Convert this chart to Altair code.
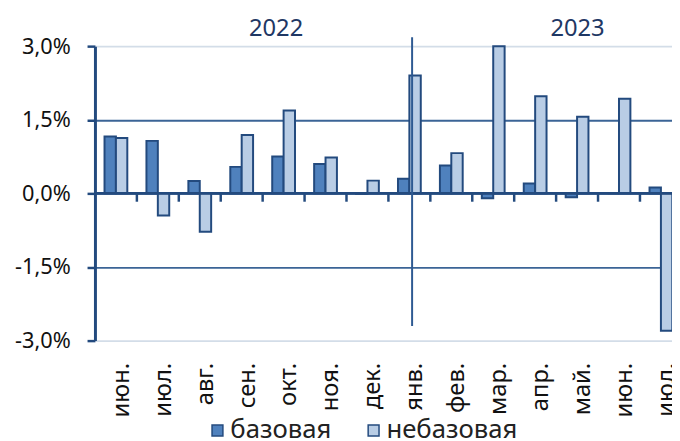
import altair as alt
import pandas as pd

# ---- data ----
months = ["июн.", "июл.", "авг.", "сен.", "окт.", "ноя.", "дек.",
          "янв.", "фев.", "мар.", "апр.", "май.", "июн.", "июл."]
years = [2022, 2022, 2022, 2022, 2022, 2022, 2022,
         2023, 2023, 2023, 2023, 2023, 2023, 2023]
base_vals = [1.16, 1.07, 0.25, 0.54, 0.75, 0.60, -0.01,
             0.30, 0.57, -0.10, 0.20, -0.08, 0.00, 0.12]
nonbase_vals = [1.13, -0.45, -0.78, 1.19, 1.69, 0.73, 0.26,
                2.40, 0.82, 3.00, 1.98, 1.56, 1.93, -2.80]
series_names = ["базовая", "небазовая"]
year_labels = ["2022", "2023"]
y_ticks = [-3.0, -1.5, 0.0, 1.5, 3.0]

cats = [f"{m} {y}" for m, y in zip(months, years)]

rows = []
for c, b, n in zip(cats, base_vals, nonbase_vals):
    rows.append({"cat": c, "series": series_names[0], "value": b})
    rows.append({"cat": c, "series": series_names[1], "value": n})
df = pd.DataFrame(rows)

NAVY = "#234A7E"
DARK = "#4F81BD"
LIGHT = "#B9CDE5"
FONT = "Noto Sans"

x_scale = alt.Scale(domain=cats, range=[0, 594], paddingInner=0, paddingOuter=0)
y_scale = alt.Scale(domain=[-3, 3], nice=False, zero=False)

x_axis = alt.Axis(
    title=None, labelAngle=270, ticks=False, domain=False, grid=False,
    labelPadding=22, labelOffset=6, labelFontSize=24, labelColor="#111111", labelFont=FONT,
    labelOverlap=False, labelExpr="split(datum.label, ' ')[0]",
)
y_axis = alt.Axis(
    title=None, values=y_ticks, grid=True,
    gridColor={"condition": {"test": "abs(datum.value) == 3", "value": "#D3DDE8"},
               "value": "#3B6496"},
    gridWidth=1.8, domainColor=NAVY, domainWidth=3, tickColor=NAVY, tickWidth=2.5,
    tickSize=8, labelPadding=17, labelFontSize=22, labelColor="#111111", labelFont=FONT,
    labelExpr="replace(replace(format(datum.value, '.1f'), '.', ','), '\u2212', '-') + '%'",
)

bars = alt.Chart(df).mark_bar(stroke=NAVY, strokeWidth=2).encode(
    x=alt.X("cat:N", scale=x_scale, sort=cats, axis=x_axis),
    xOffset=alt.XOffset("series:N", sort=series_names,
                        scale=alt.Scale(domain=series_names, paddingInner=0, paddingOuter=0.84)),
    y=alt.Y("value:Q", scale=y_scale, axis=y_axis),
    color=alt.Color("series:N", sort=series_names,
                    scale=alt.Scale(domain=series_names, range=[DARK, LIGHT]),
                    legend=alt.Legend(
                        title=None, orient="none", direction="horizontal",
                        legendX=111, legendY=376, padding=0,
                        symbolType="square", symbolSize=121, symbolStrokeColor=NAVY,
                        symbolStrokeWidth=1.5, labelFontSize=26, labelFont=FONT,
                        labelColor="#222222", labelOffset=0, columnPadding=29,
                    )),
)

zero_line = alt.Chart(pd.DataFrame({"v": [0.0]})).mark_rule(color=NAVY, strokeWidth=3).encode(
    y=alt.Y("v:Q", scale=y_scale, axis=y_axis),
)

ticks = alt.Chart(pd.DataFrame({"cat": cats[1:]})).mark_rule(color=NAVY, strokeWidth=2.5).encode(
    x=alt.X("cat:N", scale=x_scale, sort=cats, axis=x_axis, bandPosition=0),
    y=alt.Y(datum=0, scale=y_scale, axis=y_axis),
    y2=alt.Y2(datum=-0.17),
)

divider = alt.Chart(pd.DataFrame({"cat": [cats[7]]})).mark_rule(color="#2E5A92", strokeWidth=2).encode(
    x=alt.X("cat:N", scale=x_scale, sort=cats, axis=x_axis, bandPosition=0.565),
    y=alt.Y(datum=3.18, scale=y_scale, axis=y_axis),
    y2=alt.Y2(datum=-2.70),
)

year2022 = alt.Chart(pd.DataFrame({"cat": [cats[4]], "t": [year_labels[0]]})).mark_text(
    fontSize=24, font=FONT, color="#1F3864", baseline="middle", align="center"
).encode(
    x=alt.X("cat:N", scale=x_scale, sort=cats, axis=x_axis, bandPosition=0.32),
    y=alt.Y(datum=3.35, scale=y_scale, axis=y_axis),
    text="t:N",
)

year2023 = alt.Chart(pd.DataFrame({"cat": [cats[11]], "t": [year_labels[1]]})).mark_text(
    fontSize=24, font=FONT, color="#1F3864", baseline="middle", align="center"
).encode(
    x=alt.X("cat:N", scale=x_scale, sort=cats, axis=x_axis, bandPosition=0.51),
    y=alt.Y(datum=3.35, scale=y_scale, axis=y_axis),
    text="t:N",
)

chart = alt.layer(bars, zero_line, ticks, divider, year2022, year2023).properties(
    width=584, height=298,
    autosize=alt.AutoSizeParams(type="none"),
    padding={"left": 88, "top": 36, "right": 0, "bottom": 99},
).configure(font=FONT).configure_view(strokeWidth=0)

chart.save("out.html", embed_options={"renderer": "svg", "actions": False})
